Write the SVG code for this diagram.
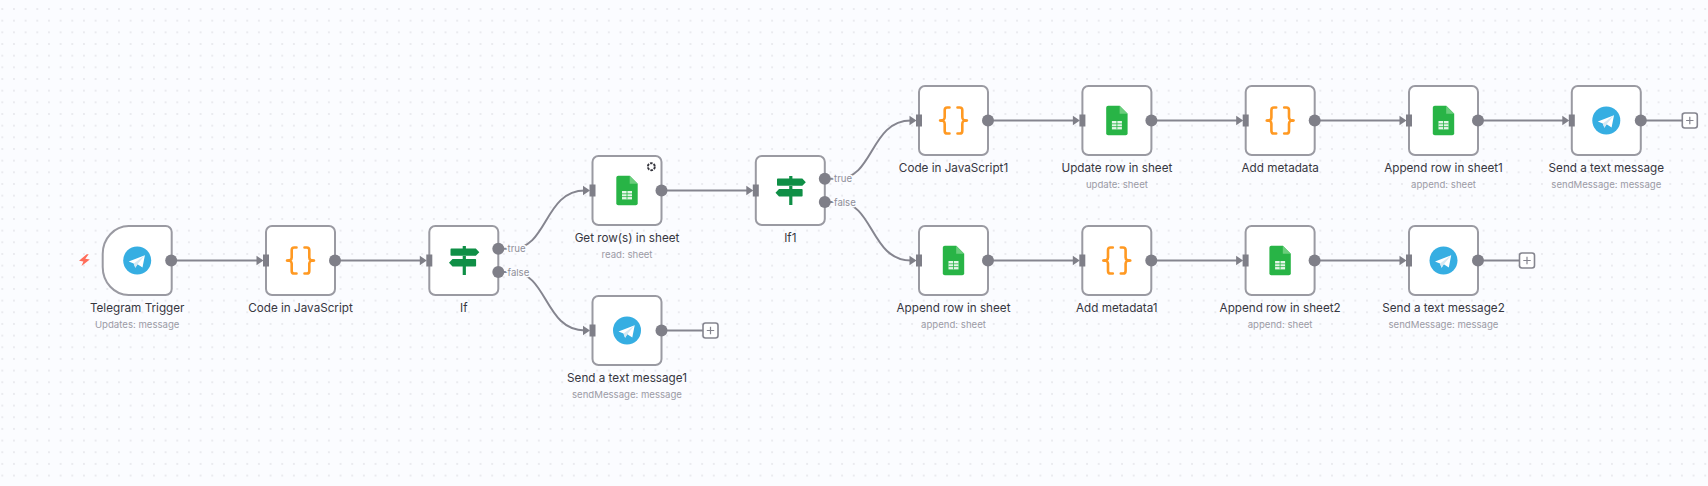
<svg xmlns="http://www.w3.org/2000/svg" width="1708" height="486" viewBox="0 0 1708 486">
<style>
text{font-family:Inter,"Liberation Sans",sans-serif;text-anchor:middle}
.n{font-size:11.7px;fill:#37373f}
.s{font-size:9.6px;fill:#9b9ba6}
.b{fill:#fff;stroke:#9a9aa2;stroke-width:2}
.c{fill:none;stroke:#85858f;stroke-width:2}
.l{font-size:9.6px;fill:#8e8e98;text-anchor:start;paint-order:stroke;stroke:#fbfcff;stroke-width:3px}
.p{fill:#7f7f88}
</style>
<defs>
<pattern id="grid" width="11.664" height="11.664" patternUnits="userSpaceOnUse" x="2.3" y="9"><circle cx="0" cy="0" r="0.7" fill="#cfcfd6"/><circle cx="11.664" cy="0" r="0.7" fill="#cfcfd6"/><circle cx="0" cy="11.664" r="0.7" fill="#cfcfd6"/><circle cx="11.664" cy="11.664" r="0.7" fill="#cfcfd6"/></pattern>
<g id="box"><rect class="b" x="0" y="0" width="69" height="69" rx="6"/></g>
<g id="ports"><rect class="p" x="-3" y="28.5" width="6" height="12"/><circle class="p" cx="69" cy="34.5" r="6"/></g>
<path id="arrow" class="p" d="M-9.5-4.8 L-2.5 0 L-9.5 4.8Z"/>
<g id="tg"><circle cx="34.5" cy="34.5" r="14" fill="#36aee2"/><path d="M26 35.6 L42.2 29.3 L39.8 41.6 L34.8 38.2 L32.6 41.8 L31 37.4Z" fill="#fff"/><path d="M31 37.4 L42.2 29.3 L34.8 38.2 L32.6 41.8Z" fill="#d5e8f3"/></g>
<g id="code" fill="none" stroke="#ff9922" stroke-width="2.6" stroke-linecap="round" stroke-linejoin="round"><path d="M30.5 21.5 h-2.2 a2.6 2.6 0 0 0 -2.6 2.6 v7 a3.4 3.4 0 0 1 -4.6 3.4 a3.4 3.4 0 0 1 4.6 3.4 v7 a2.6 2.6 0 0 0 2.6 2.6 h2.2"/><path d="M38.5 21.5 h2.2 a2.6 2.6 0 0 1 2.6 2.6 v7 a3.4 3.4 0 0 0 4.6 3.4 a3.4 3.4 0 0 0 -4.6 3.4 v7 a2.6 2.6 0 0 1 -2.6 2.6 h-2.2"/></g>
<g id="sheet"><path d="M25.8 19.7 H37.2 L45.2 27.7 V47.3 a2 2 0 0 1 -2 2 H25.8 a2 2 0 0 1 -2 -2 V21.7 a2 2 0 0 1 2 -2Z" fill="#28b446"/><path d="M37.2 19.7 L45.2 27.7 H37.2Z" fill="#6ace7c"/><rect x="29.5" y="35" width="10" height="8.4" fill="#e4f6e8"/><path d="M29.5 37.8 H39.5 M29.5 40.6 H39.5 M34.5 35 V43.4" stroke="#28b446" stroke-width="0.8" fill="none"/></g>
<g id="if" fill="#0f8f46"><path d="M33.4 20 H36.6 V22.6 H46.5 L50 26.2 L46.5 29.8 H22 Q21.2 29.8 21.2 29 V23.4 Q21.2 22.6 22 22.6 H33.4Z"/><path d="M33.4 30 H36.6 V33 H46 Q46.8 33 46.8 33.8 V39.8 Q46.8 40.6 46 40.6 H36.6 V49 H33.4 V40.6 H23.2 L19.7 36.8 L23.2 33 H33.4Z"/></g>
<g id="plus"><rect x="0" y="0" width="15" height="15" rx="2.5" fill="#fff" stroke="#85858f" stroke-width="1.6"/><path d="M3.8 7.5 H11.2 M7.5 3.8 V11.2" stroke="#85858f" stroke-width="1.2" fill="none"/></g>
</defs>
<rect width="1708" height="486" fill="#fbfcff"/>
<rect width="1708" height="486" fill="url(#grid)"/>
<g id="connectors">
<path class="c" d="M171 260.5 H258"/>
<path class="c" d="M335 260.5 H421"/>
<path class="c" d="M498.3 248.7 H512 C548 248.7 544 190.5 585 190.5"/>
<path class="c" d="M498.3 272 H512 C548 272 544 330.5 585 330.5"/>
<path class="c" d="M661.5 190.5 H748"/>
<path class="c" d="M824.8 178.7 H838 C874 178.7 870 120.5 911 120.5"/>
<path class="c" d="M824.8 202 H838 C874 202 870 260.5 911 260.5"/>
<path class="c" d="M988 120.5 H1075"/>
<path class="c" d="M1151.5 120.5 H1238"/>
<path class="c" d="M1314.7 120.5 H1401"/>
<path class="c" d="M1478 120.5 H1564"/>
<path class="c" d="M988 260.5 H1075"/>
<path class="c" d="M1151.3 260.5 H1238"/>
<path class="c" d="M1314.6 260.5 H1401"/>
<path class="c" d="M661.5 330.5 H703"/>
<path class="c" d="M1478 260.5 H1526"/>
<path class="c" d="M1641 120.5 H1683"/>
<use href="#arrow" x="266" y="260.5"/><use href="#arrow" x="429.3" y="260.5"/><use href="#arrow" x="592.5" y="190.5"/><use href="#arrow" x="592.5" y="330.5"/><use href="#arrow" x="755.8" y="190.5"/><use href="#arrow" x="919" y="120.5"/><use href="#arrow" x="919" y="260.5"/><use href="#arrow" x="1082.4" y="120.5"/><use href="#arrow" x="1245.7" y="120.5"/><use href="#arrow" x="1409" y="120.5"/><use href="#arrow" x="1571.8" y="120.5"/><use href="#arrow" x="1082.3" y="260.5"/><use href="#arrow" x="1245.6" y="260.5"/><use href="#arrow" x="1409" y="260.5"/>
<text class="l" x="507.5" y="252.2">true</text>
<text class="l" x="507.5" y="275.5">false</text>
<text class="l" x="834" y="182.2">true</text>
<text class="l" x="834" y="205.5">false</text>
</g>
<g id="telegram-trigger" transform="translate(102.7,226)"><path d="M26 0 H63 a6 6 0 0 1 6 6 V63 a6 6 0 0 1 -6 6 H26 A26 28 0 0 1 0 41 V28 A26 28 0 0 1 26 0Z" class="b"/><circle class="p" cx="68.5" cy="34.5" r="6"/><use href="#tg"/><path d="M-16 28.3 L-23.7 34.8 L-19.3 35.4 L-21.2 40 L-12.9 33.4 L-17.4 32.8 L-14 28.3Z" fill="#ff6d5a"/><text class="n" x="34.5" y="86">Telegram Trigger</text><text class="s" x="34.5" y="102">Updates: message</text></g>
<g id="code-js" transform="translate(266,226)"><use href="#box"/><use href="#ports"/><use href="#code"/><text class="n" x="34.5" y="86">Code in JavaScript</text></g>
<g id="if-0" transform="translate(429.3,226)"><use href="#box"/><rect class="p" x="-3" y="28.5" width="6" height="12"/><circle class="p" cx="69" cy="22.7" r="6"/><circle class="p" cx="69" cy="46" r="6"/><use href="#if"/><text class="n" x="34.5" y="86">If</text></g>
<g id="get-rows" transform="translate(592.5,156)"><use href="#box"/><use href="#ports"/><use href="#sheet"/><circle cx="58.8" cy="10.7" r="3.5" fill="none" stroke="#34343c" stroke-width="1.9" stroke-dasharray="2.6 1.1"/><text class="n" x="34.5" y="86">Get row(s) in sheet</text><text class="s" x="34.5" y="102">read: sheet</text></g>
<g id="send1" transform="translate(592.5,296)"><use href="#box"/><use href="#ports"/><use href="#tg"/><use href="#plus" x="110.5" y="27"/><text class="n" x="34.5" y="86">Send a text message1</text><text class="s" x="34.5" y="102">sendMessage: message</text></g>
<g id="if-1" transform="translate(755.8,156)"><use href="#box"/><rect class="p" x="-3" y="28.5" width="6" height="12"/><circle class="p" cx="69" cy="22.7" r="6"/><circle class="p" cx="69" cy="46" r="6"/><use href="#if"/><text class="n" x="34.5" y="86">If1</text></g>
<g id="code-js1" transform="translate(919,86)"><use href="#box"/><use href="#ports"/><use href="#code"/><text class="n" x="34.5" y="86">Code in JavaScript1</text></g>
<g id="update-row" transform="translate(1082.4,86)"><use href="#box"/><use href="#ports"/><use href="#sheet"/><text class="n" x="34.5" y="86">Update row in sheet</text><text class="s" x="34.5" y="102">update: sheet</text></g>
<g id="add-metadata" transform="translate(1245.7,86)"><use href="#box"/><use href="#ports"/><use href="#code"/><text class="n" x="34.5" y="86">Add metadata</text></g>
<g id="append1" transform="translate(1409,86)"><use href="#box"/><use href="#ports"/><use href="#sheet"/><text class="n" x="34.5" y="86">Append row in sheet1</text><text class="s" x="34.5" y="102">append: sheet</text></g>
<g id="send" transform="translate(1571.8,86)"><use href="#box"/><use href="#ports"/><use href="#tg"/><use href="#plus" x="110.5" y="27"/><text class="n" x="34.5" y="86">Send a text message</text><text class="s" x="34.5" y="102">sendMessage: message</text></g>
<g id="append" transform="translate(919,226)"><use href="#box"/><use href="#ports"/><use href="#sheet"/><text class="n" x="34.5" y="86">Append row in sheet</text><text class="s" x="34.5" y="102">append: sheet</text></g>
<g id="add-metadata1" transform="translate(1082.3,226)"><use href="#box"/><use href="#ports"/><use href="#code"/><text class="n" x="34.5" y="86">Add metadata1</text></g>
<g id="append2" transform="translate(1245.6,226)"><use href="#box"/><use href="#ports"/><use href="#sheet"/><text class="n" x="34.5" y="86">Append row in sheet2</text><text class="s" x="34.5" y="102">append: sheet</text></g>
<g id="send2" transform="translate(1409,226)"><use href="#box"/><use href="#ports"/><use href="#tg"/><use href="#plus" x="110.5" y="27"/><text class="n" x="34.5" y="86">Send a text message2</text><text class="s" x="34.5" y="102">sendMessage: message</text></g>
</svg>
